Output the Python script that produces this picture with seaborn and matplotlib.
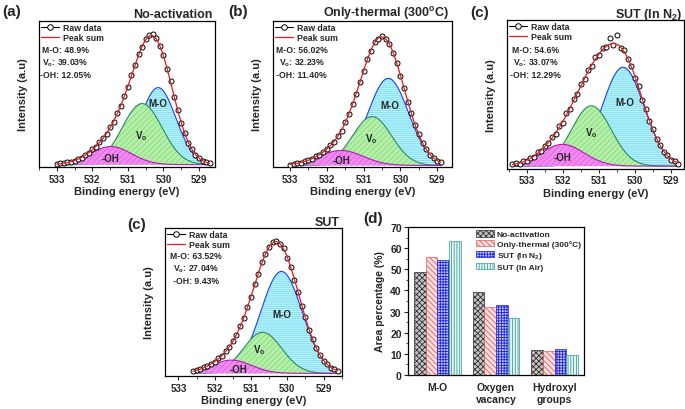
import numpy as np
import pandas as pd
import matplotlib
matplotlib.use("Agg")
import matplotlib.pyplot as plt
import seaborn as sns
from matplotlib.ticker import MultipleLocator
from matplotlib.lines import Line2D
from matplotlib.patches import Patch

sns.set_theme(style="white")
plt.rcParams['font.family'] = ['Liberation Sans', 'DejaVu Sans']
plt.rcParams['font.weight'] = 'bold'
plt.rcParams['axes.labelweight'] = 'bold'
plt.rcParams['mathtext.fontset'] = 'custom'
plt.rcParams['mathtext.rm'] = 'Liberation Sans:bold'
plt.rcParams['mathtext.it'] = 'Liberation Sans:bold'
plt.rcParams['mathtext.bf'] = 'Liberation Sans:bold'
plt.rcParams['hatch.linewidth'] = 0.6

# ---------------- data ----------------
component_names = ['M-O', 'V$_o$', '-OH']

# (a) No-activation : raw O1s (normalised), 0.1 eV steps from 533.0 to 528.7 eV
a_energy_range = [533.0, 528.7]
a_raw = [0.008, 0.010, 0.012, 0.019, 0.024, 0.030, 0.045, 0.054, 0.075, 0.090,
         0.118, 0.138, 0.172, 0.205, 0.238, 0.288, 0.330, 0.392, 0.450, 0.528,
         0.598, 0.686, 0.760, 0.845, 0.902, 0.962, 0.995, 0.998, 0.968, 0.905,
         0.838, 0.735, 0.637, 0.520, 0.422, 0.318, 0.242, 0.168, 0.121, 0.076,
         0.053, 0.030, 0.020, 0.012]
a_centers = [530.15, 530.60, 531.48]
a_heights = [0.59, 0.468, 0.139]
a_sigmas = [0.50, 0.56, 0.58]
a_shares = ['48.9%', '39.03%', '12.05%']

# (b) Only-thermal (300 C)
b_energy_range = [533.0, 528.9]
b_raw = [0.006, 0.012, 0.018, 0.020, 0.032, 0.041, 0.050, 0.068, 0.080, 0.104,
         0.122, 0.155, 0.180, 0.226, 0.266, 0.330, 0.388, 0.470, 0.545, 0.638,
         0.720, 0.810, 0.872, 0.938, 0.965, 0.985, 0.962, 0.928, 0.858, 0.782,
         0.682, 0.590, 0.485, 0.396, 0.305, 0.236, 0.170, 0.126, 0.083, 0.058,
         0.035, 0.024]
b_centers = [530.33, 530.77, 531.61]
b_heights = [0.663, 0.372, 0.114]
b_sigmas = [0.55, 0.53, 0.60]
b_shares = ['56.02%', '32.23%', '11.40%']

# (c) SUT (In N2)
c_energy_range = [533.4, 528.8]
c_raw = [0.015, 0.022, 0.020, 0.038, 0.044, 0.068, 0.075, 0.110, 0.120, 0.162,
         0.180, 0.235, 0.255, 0.318, 0.345, 0.420, 0.455, 0.535, 0.575, 0.655,
         0.690, 0.768, 0.798, 0.865, 0.885, 0.940, 0.945, 1.020, 0.965, 1.040,
         0.940, 0.925, 0.850, 0.800, 0.705, 0.635, 0.530, 0.455, 0.358, 0.295,
         0.215, 0.170, 0.112, 0.088, 0.052, 0.042, 0.020]
c_centers = [530.33, 531.21, 532.01]
c_heights = [0.787, 0.48, 0.173]
c_sigmas = [0.58, 0.55, 0.60]
c_shares = ['54.6%', '33.07%', '12.29%']

# (c') SUT (In Air)
s_energy_range = [532.6, 528.6]
s_raw = [0.018, 0.026, 0.030, 0.045, 0.052, 0.074, 0.087, 0.114, 0.132, 0.170,
         0.198, 0.246, 0.290, 0.356, 0.418, 0.502, 0.578, 0.672, 0.750, 0.838,
         0.898, 0.958, 0.990, 1.000, 0.975, 0.944, 0.875, 0.803, 0.706, 0.615,
         0.510, 0.423, 0.330, 0.260, 0.190, 0.142, 0.097, 0.070, 0.044, 0.030,
         0.017]
s_centers = [530.16, 530.68, 531.54]
s_heights = [0.77, 0.31, 0.10]
s_sigmas = [0.57, 0.53, 0.55]
s_shares = ['63.52%', '27.04%', '9.43%']

# (d) area percentages
bar_categories = ['M-O', 'Oxygen\nvacancy', 'Hydroxyl\ngroups']
bar_series = ['No-activation', 'Only-thermal (300°C)', 'SUT (In N$_2$)', 'SUT (In Air)']
no_activation_pct = [48.9, 39.03, 12.05]
only_thermal_pct = [56.02, 32.23, 11.40]
sut_n2_pct = [54.6, 33.07, 12.29]
sut_air_pct = [63.52, 27.04, 9.43]

# ---------------- styles ----------------
comp_styles = [
    dict(face='#84e2f3', hatchc='#cef6fc', hatch='--------', line='#1f3cff'),
    dict(face='#b4f0a6', hatchc='#8ad88a', hatch='//////', line='#2a8a66'),
    dict(face='#f28af2', hatchc='#de62de', hatch='//////', line='#b020b0'),
]

W, H = 685, 410
fig = plt.figure(figsize=(W / 100, H / 100), dpi=100)


def rect(l, t, r, b):
    return [l / W, 1 - b / H, (r - l) / W, (b - t) / H]


def ftext(x, y, s, **kw):
    fig.text(x / W, 1 - y / H, s, **kw)


def xps_panel(ax, erange, raw, centers, heights, sigmas, shares, xlim, ylim,
              label_pos, note_pos):
    energy = np.linspace(erange[0], erange[1], len(raw))
    grid = np.linspace(erange[0], erange[1], 400)
    comps = [h * np.exp(-(grid - c) ** 2 / (2 * s ** 2))
             for c, h, s in zip(centers, heights, sigmas)]
    total = np.sum(comps, axis=0)
    for k, (comp, st) in enumerate(zip(comps, comp_styles)):
        ax.fill_between(grid, 0, comp, facecolor=st['face'], edgecolor=st['hatchc'],
                        hatch=st['hatch'], linewidth=0, zorder=1 + 2 * k)
        sns.lineplot(x=grid, y=comp, ax=ax, color=st['line'], lw=0.8,
                     sort=False, zorder=2 + 2 * k)
    sns.scatterplot(x=energy, y=raw, ax=ax, marker='o', s=13, facecolor='white',
                    edgecolor='black', linewidth=0.7, zorder=8)
    sns.lineplot(x=grid, y=total, ax=ax, color='#e8191b', lw=0.9, sort=False, zorder=9)
    ax.set_xlim(*xlim)
    ax.set_ylim(*ylim)
    ax.set_yticks([])
    ax.xaxis.set_major_locator(MultipleLocator(1))
    ax.xaxis.set_minor_locator(MultipleLocator(0.5))
    ax.tick_params(axis='x', which='major', direction='out', length=3, width=0.8,
                   labelsize=7, pad=2, bottom=True)
    ax.tick_params(axis='x', which='minor', direction='out', length=1.8, width=0.6,
                   bottom=True)
    for lab in ax.get_xticklabels():
        lab.set_fontweight('bold')
    for sp in ax.spines.values():
        sp.set_color('black')
        sp.set_linewidth(0.9)
    ax.set_xlabel('Binding energy (eV)', fontsize=8, fontweight='bold', labelpad=1.5)
    ax.set_ylabel('Intensity (a.u)', fontsize=8, fontweight='bold', labelpad=8)
    # component labels
    for (ex, hy), name in zip(label_pos, component_names):
        ax.text(ex, hy, name, fontsize=7, fontweight='bold', ha='center', va='center',
                zorder=10)
    note = '\n'.join(f'{n}: {v}' for n, v in zip(component_names, shares))
    ax.text(note_pos[0], note_pos[1], note, transform=ax.transAxes, fontsize=6.2,
            fontweight='bold', ha='center', va='center', linespacing=1.25, zorder=10)
    handles = [Line2D([], [], color='black', lw=0.8, marker='o', mfc='white',
                      mec='black', ms=4, mew=0.7),
               Line2D([], [], color='#e8191b', lw=0.9)]
    ax.legend(handles, ['Raw data', 'Peak sum'], loc='upper left',
              bbox_to_anchor=(0.0, 1.0), frameon=False,
              handlelength=2.0, handletextpad=0.5, labelspacing=0.15,
              borderaxespad=0.15, borderpad=0.1, prop={'weight': 'bold', 'size': 6.3})


# (a)
ax_a = fig.add_axes(rect(39, 22, 215, 168))
xps_panel(ax_a, a_energy_range, a_raw, a_centers, a_heights, a_sigmas, a_shares,
          (533.5, 528.55), (-0.018, 1.10),
          [(530.15, 0.47), (530.62, 0.23), (531.5, 0.05)], (0.15, 0.72))
ftext(2, 16, '(a)', fontsize=11, fontweight='bold', ha='left', va='baseline')
ftext(213, 18, 'No-activation', fontsize=9, fontweight='bold', ha='right', va='baseline')

# (b)
ax_b = fig.add_axes(rect(273, 22, 452, 168))
xps_panel(ax_b, b_energy_range, b_raw, b_centers, b_heights, b_sigmas, b_shares,
          (533.46, 528.6), (-0.012, 1.10),
          [(530.3, 0.46), (530.8, 0.21), (531.61, 0.04)], (0.16, 0.72))
ftext(228, 16, '(b)', fontsize=11, fontweight='bold', ha='left', va='baseline')
ftext(449, 17, 'Only-thermal (300$^{o}$C)', fontsize=9, fontweight='bold', ha='right',
      va='baseline')

# (c) top
ax_c = fig.add_axes(rect(507, 21, 684, 169.5))
xps_panel(ax_c, c_energy_range, c_raw, c_centers, c_heights, c_sigmas, c_shares,
          (533.55, 528.64), (-0.019, 1.163),
          [(530.29, 0.51), (531.21, 0.27), (532.01, 0.07)], (0.162, 0.717))
ftext(470, 17, '(c)', fontsize=11, fontweight='bold', ha='left', va='baseline')
ftext(682, 18, 'SUT (In N$_2$)', fontsize=9, fontweight='bold', ha='right', va='baseline')

# (c) bottom - SUT
ax_s = fig.add_axes(rect(165, 229, 342, 377))
xps_panel(ax_s, s_energy_range, s_raw, s_centers, s_heights, s_sigmas, s_shares,
          (533.37, 528.49), (-0.02, 1.098),
          [(530.16, 0.45), (530.77, 0.18), (531.35, 0.035)], (0.177, 0.73))
ftext(127, 229, '(c)', fontsize=11, fontweight='bold', ha='left', va='baseline')
ftext(340, 226, 'SUT', fontsize=9, fontweight='bold', ha='right', va='baseline')

# (d) bar chart
ax_d = fig.add_axes(rect(408, 228, 584, 376))
rows = []
for name, vals in zip(bar_series, [no_activation_pct, only_thermal_pct, sut_n2_pct,
                                   sut_air_pct]):
    for cat, v in zip(bar_categories, vals):
        rows.append({'category': cat, 'series': name, 'value': v})
df = pd.DataFrame(rows)
bar_faces = ['#c4c4c4', '#ffe0e0', '#c4c8ff', '#e4f8f6']
bar_hatchc = ['#303030', '#e05858', '#1c22e0', '#3a9a9a']
bar_hatches = ['xxxxxx', '\\\\\\\\\\\\', '++++++', '||||||']
sns.barplot(data=df, x='category', y='value', hue='series', ax=ax_d,
            palette=dict(zip(bar_series, bar_faces)), saturation=1, width=0.8,
            legend=False, order=bar_categories, hue_order=bar_series)
for cont, ec, hh in zip(ax_d.containers, bar_hatchc, bar_hatches):
    for bar in cont:
        bar.set_hatch(hh)
        bar.set_edgecolor(ec)
        bar.set_linewidth(0.5)
ax_d.set_xlim(-0.5, 2.5)
ax_d.set_ylim(0, 70)
ax_d.yaxis.set_major_locator(MultipleLocator(10))
ax_d.yaxis.set_minor_locator(MultipleLocator(5))
ax_d.tick_params(axis='y', which='major', direction='out', length=3, width=0.8,
                 labelsize=7.5, pad=1.5, left=True)
ax_d.tick_params(axis='y', which='minor', direction='out', length=1.8, width=0.6,
                 left=True)
ax_d.tick_params(axis='x', length=0, labelsize=7.5, pad=5)
for lab in ax_d.get_xticklabels() + ax_d.get_yticklabels():
    lab.set_fontweight('bold')
for sp in ax_d.spines.values():
    sp.set_color('black')
    sp.set_linewidth(0.9)
ax_d.set_xlabel('')
ax_d.set_ylabel('Area percentage (%)', fontsize=7.6, fontweight='bold', labelpad=4)
leg_handles = [Patch(facecolor=f, edgecolor=e, hatch=h, linewidth=0.5)
               for f, e, h in zip(bar_faces, bar_hatchc, bar_hatches)]
ax_d.legend(leg_handles, bar_series, loc='upper right', bbox_to_anchor=(1.0, 1.0),
            frameon=False, handlelength=2.2, handleheight=0.8, handletextpad=0.3,
            labelspacing=0.2, borderaxespad=0.2, borderpad=0.2,
            prop={'weight': 'bold', 'size': 6})
ftext(363, 223, '(d)', fontsize=11, fontweight='bold', ha='left', va='baseline')

fig.savefig('out.png', dpi=100)
